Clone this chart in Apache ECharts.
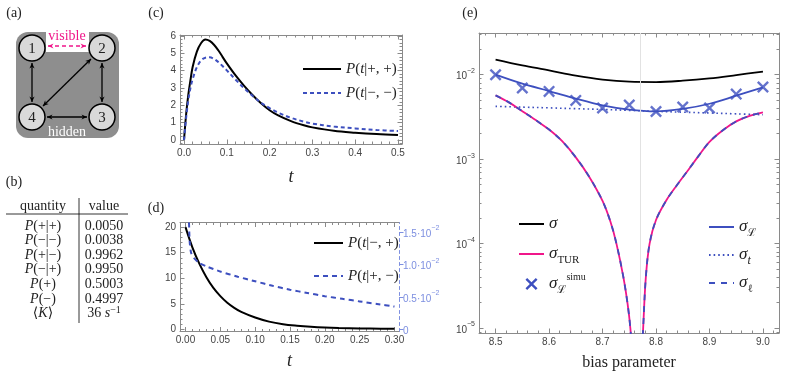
<!DOCTYPE html>
<html>
<head>
<meta charset="utf-8">
<script src="https://cdn.jsdelivr.net/npm/echarts@6/dist/echarts.min.js"></script>
<style>html,body{margin:0;background:#fff}#main{width:789px;height:380px}</style>
</head>
<body>
<div id="main"></div>
<script>
// panel (c): first passage densities
const tC = [0, 0.005, 0.01, 0.015, 0.02, 0.03, 0.04, 0.05, 0.06, 0.07, 0.08, 0.09, 0.1, 0.12, 0.14, 0.16, 0.18, 0.2, 0.22, 0.25, 0.28, 0.3, 0.35, 0.4, 0.45, 0.5];
const pPlusPlus = [0, 1.5, 2.6, 3.45, 4.2, 5.1, 5.6, 5.8, 5.72, 5.5, 5.18, 4.8, 4.42, 3.74, 3.14, 2.6, 2.12, 1.72, 1.42, 1.09, 0.85, 0.73, 0.53, 0.42, 0.34, 0.29];
const pMinusMinus = [0, 1.3, 2.3, 3.0, 3.5, 4.2, 4.6, 4.75, 4.77, 4.68, 4.5, 4.27, 4.02, 3.5, 3.0, 2.55, 2.15, 1.84, 1.58, 1.28, 1.06, 0.95, 0.78, 0.67, 0.58, 0.52];

// panel (d)
const tD = [0, 0.01, 0.02, 0.03, 0.04, 0.05, 0.06, 0.07, 0.08, 0.1, 0.12, 0.14, 0.16, 0.18, 0.2, 0.22, 0.25, 0.28, 0.3];
const pMinusPlus = [20, 16.0, 12.8, 10.2, 8.1, 6.5, 5.2, 4.2, 3.4, 2.3, 1.5, 1.0, 0.7, 0.48, 0.33, 0.24, 0.16, 0.12, 0.1];
const tD2 = [0.004, 0.005, 0.006, 0.008, 0.012, 0.02, 0.03, 0.05, 0.075, 0.1, 0.125, 0.15, 0.175, 0.2, 0.225, 0.25, 0.275, 0.3];
const pPlusMinus = [0.022, 0.0165, 0.0135, 0.0118, 0.011, 0.0102, 0.0097, 0.0089, 0.0081, 0.0074, 0.0067, 0.0061, 0.0056, 0.0051, 0.0047, 0.0043, 0.0039, 0.0035];

// panel (e): entropy production estimates vs bias
const bias = [8.5, 8.55, 8.6, 8.65, 8.7, 8.75, 8.8, 8.85, 8.9, 8.95, 9.0];
const sigmaTot = [0.0151, 0.0129, 0.01125, 0.00973, 0.00873, 0.00826, 0.00819, 0.00849, 0.00904, 0.0099, 0.0109];
const sigmaL = [0.01, 0.00782, 0.00641, 0.0052, 0.00433, 0.00385, 0.00367, 0.00393, 0.00453, 0.00564, 0.00708];
const sigmaT = [0.00422, 0.00413, 0.00405, 0.00396, 0.00388, 0.00378, 0.00368, 0.0036, 0.00352, 0.00344, 0.00336];
const sigmaSimu = [0.01, 0.00695, 0.00634, 0.00496, 0.00403, 0.00438, 0.00367, 0.00414, 0.00403, 0.0059, 0.00715];
const biasTurLeft = [8.5, 8.525, 8.55, 8.575, 8.6, 8.625, 8.65, 8.675, 8.7, 8.715, 8.726, 8.739, 8.747, 8.752, 8.758];
const sigmaTurLeft = [5.7e-3, 4.7e-3, 3.7e-3, 2.9e-3, 2.24e-3, 1.62e-3, 1.05e-3, 6.2e-4, 3.2e-4, 1.8e-4, 1.0e-4, 4.0e-5, 1.9e-5, 1.0e-5, 3e-6];
const biasTurRight = [8.772, 8.776, 8.781, 8.788, 8.8, 8.82, 8.84, 8.86, 8.88, 8.9, 8.925, 8.95, 8.975, 9.0];
const sigmaTurRight = [3e-6, 1e-5, 4e-5, 1e-4, 1.9e-4, 3.3e-4, 5.0e-4, 7.4e-4, 1.1e-3, 1.6e-3, 2.2e-3, 2.8e-3, 3.25e-3, 3.57e-3];
const zeroBias = 8.765;

// table (b)
const quantities = ['{i|P}(+|+)', '{i|P}(−|−)', '{i|P}(+|−)', '{i|P}(−|+)', '{i|P}(+)', '{i|P}(−)', '⟨{i|K}⟩'];
const values = ['0.0050', '0.0038', '0.9962', '0.9950', '0.5003', '0.4997', '36 {i|s}{sup|−1}'];

const SERIF = "'Liberation Serif','DejaVu Serif',serif";
const SANS = "'Liberation Sans',Arial,sans-serif";
const FRAME = '#8a8a8a';
const LABEL = '#444';
const BLUE = '#3d4fbf';
const PINK = '#f0168a';
const LIGHTBLUE = '#7d8fe0';

function steps(lo, hi, step) {
  const out = [];
  for (let k = Math.ceil(lo / step - 1e-6); k * step <= hi + 1e-9; k++) out.push(Math.round(k * step * 1e6) / 1e6);
  return out;
}
function pairs(xs, ys, f) {
  return xs.map((x, i) => [x, f ? f(ys[i]) : ys[i]]);
}
const supRich = c => ({
  base: {fontSize: 10, fontFamily: SANS, color: c, lineHeight: 14, verticalAlign: 'bottom'},
  sup: {fontSize: 7, fontFamily: SANS, color: c, lineHeight: 14, verticalAlign: 'top'}
});

const xAxes = [], yAxes = [];
// frame side: one axis with line, long ticks and labels, one with short minor ticks
function side(list, grid, pos, min, max, major, minor, fmt, look) {
  look = look || {};
  const col = look.color || FRAME;
  const idx = list.length;
  const ax = {
    type: 'value', gridIndex: grid, position: pos, min: min, max: max,
    axisLine: {show: true, onZero: false, lineStyle: {color: col, width: 1, type: look.dash ? [3, 3] : 'solid'}},
    axisTick: {show: true, inside: !look.outside, length: 4.5, customValues: major, lineStyle: {color: col}},
    axisLabel: fmt ? {show: true, customValues: major, formatter: fmt, color: look.labelColor || LABEL,
      fontSize: 10, fontFamily: SANS, margin: 4, rich: supRich(look.labelColor || LABEL)} : {show: false},
    splitLine: {show: false}
  };
  if (look.name) {
    ax.name = look.name;
    ax.nameLocation = 'middle';
    ax.nameGap = look.nameGap;
    ax.nameTextStyle = {fontFamily: SERIF, fontSize: look.nameSize, fontStyle: look.nameStyle || 'normal', color: '#222'};
  }
  list.push(ax);
  if (minor) list.push({
    type: 'value', gridIndex: grid, position: pos, min: min, max: max,
    axisLine: {show: false, onZero: false},
    axisTick: {show: true, inside: true, length: 2.5, customValues: minor, lineStyle: {color: col}},
    axisLabel: {show: false}, splitLine: {show: false}
  });
  return idx;
}

// (c)
const cx = [-0.0094, 0.5094], cy = [-0.23, 6.06];
const xC = side(xAxes, 0, 'bottom', cx[0], cx[1], steps(0, 0.5, 0.1), steps(cx[0], cx[1], 0.02), v => v.toFixed(1),
  {name: 't', nameGap: 24, nameSize: 18, nameStyle: 'italic'});
side(xAxes, 0, 'top', cx[0], cx[1], steps(0, 0.5, 0.1), steps(cx[0], cx[1], 0.02));
const yC = side(yAxes, 0, 'left', cy[0], cy[1], steps(0, 6, 1), steps(cy[0], cy[1], 0.2), v => String(v));
side(yAxes, 0, 'right', cy[0], cy[1], steps(0, 6, 1), steps(cy[0], cy[1], 0.2));

// (d)
const dx = [-0.0079, 0.3065], dy = [-0.43, 20.9], dy2 = [-0.00034, 0.01646];
const xD = side(xAxes, 1, 'bottom', dx[0], dx[1], steps(0, 0.3, 0.05), steps(dx[0], dx[1], 0.01), v => v.toFixed(2),
  {name: 't', nameGap: 21, nameSize: 18, nameStyle: 'italic'});
side(xAxes, 1, 'top', dx[0], dx[1], steps(0, 0.3, 0.05), steps(dx[0], dx[1], 0.01));
const yD = side(yAxes, 1, 'left', dy[0], dy[1], steps(0, 20, 5), steps(dy[0], dy[1], 1), v => String(v));
const yD2 = side(yAxes, 1, 'right', dy2[0], dy2[1], [0, 0.005, 0.01, 0.015], null,
  v => v === 0 ? '{base|0}' : '{base|' + (v * 100).toFixed(1) + '·10}{sup|−2}',
  {color: LIGHTBLUE, labelColor: LIGHTBLUE, dash: true, outside: true});

// (e)
const ex = [8.469, 9.03], ey = [-5.059, -1.506];
const logMinor = [];
for (let n = -6; n <= -2; n++) for (let k = 2; k <= 9; k++) {
  const v = n + Math.log10(k);
  if (v > ey[0] && v < ey[1]) logMinor.push(v);
}
const xE = side(xAxes, 2, 'bottom', ex[0], ex[1], steps(8.5, 9.0, 0.1), steps(ex[0], ex[1], 0.02), v => v.toFixed(1),
  {name: 'bias parameter', nameGap: 22, nameSize: 16});
side(xAxes, 2, 'top', ex[0], ex[1], steps(8.5, 9.0, 0.1), steps(ex[0], ex[1], 0.02));
const yE = side(yAxes, 2, 'left', ey[0], ey[1], [-5, -4, -3, -2], logMinor,
  v => '{base|10}{sup|−' + Math.round(-v) + '}');
side(yAxes, 2, 'right', ey[0], ey[1], [-5, -4, -3, -2], logMinor);

const lg = Math.log10;
function line(name, xi, yi, data, color, width, type, extra) {
  return Object.assign({
    name: name, type: 'line', xAxisIndex: xi, yAxisIndex: yi, data: data,
    showSymbol: false, smooth: 0.35,
    lineStyle: {color: color, width: width, type: type || 'solid'}, itemStyle: {color: color}
  }, extra || {});
}
const crossPath = 'path://M0,1.4L1.4,0L5,3.6L8.6,0L10,1.4L6.4,5L10,8.6L8.6,10L5,6.4L1.4,10L0,8.6L3.6,5Z';

const series = [
  line('P(t|+,+)', xC, yC, pairs(tC, pPlusPlus), '#000', 2),
  line('P(t|−,−)', xC, yC, pairs(tC, pMinusMinus), BLUE, 2, [4, 3]),
  line('P(t|−,+)', xD, yD, pairs(tD, pMinusPlus), '#000', 2),
  line('P(t|+,−)', xD, yD2, pairs(tD2, pPlusMinus), BLUE, 2, [5, 4], {smooth: 0.2}),
  line('σ', xE, yE, pairs(bias, sigmaTot, lg), '#000', 1.8, 'solid', {
    markLine: {silent: true, symbol: 'none', label: {show: false}, animation: false,
      lineStyle: {color: '#e2e2e2', width: 1, type: 'solid'}, data: [{xAxis: zeroBias}]}
  }),
  line('σt', xE, yE, pairs(bias, sigmaT, lg), BLUE, 1.6, [1.6, 3]),
  line('σTUR', xE, yE, pairs(biasTurLeft, sigmaTurLeft, lg), PINK, 1.8),
  line('σTUR', xE, yE, pairs(biasTurRight, sigmaTurRight, lg), PINK, 1.8),
  line('σℓ', xE, yE, pairs(biasTurLeft, sigmaTurLeft, lg), BLUE, 1.8, [6, 6]),
  line('σℓ', xE, yE, pairs(biasTurRight, sigmaTurRight, lg), BLUE, 1.8, [6, 6]),
  line('σL', xE, yE, pairs(bias, sigmaL, lg), BLUE, 1.8),
  {
    name: 'σsimu', type: 'scatter', xAxisIndex: xE, yAxisIndex: yE, data: pairs(bias, sigmaSimu, lg),
    symbol: crossPath, symbolSize: 12, itemStyle: {color: BLUE}, z: 5
  }
];

const legendText = {
  'P(t|+,+)': '{i|P}({i|t}|+, +)',
  'P(t|−,−)': '{i|P}({i|t}|−, −)',
  'P(t|−,+)': '{i|P}({i|t}|−, +)',
  'P(t|+,−)': '{i|P}({i|t}|+, −)',
  'σ': '{s|σ}',
  'σTUR': '{s|σ}{sub|TUR}',
  'σsimu': '{s|σ}{sub|ℒ}{sup|simu}',
  'σL': '{s|σ}{sub|ℒ}',
  'σt': '{s|σ}{subi|t}',
  'σℓ': '{s|σ}{sub|ℓ}'
};
const legRich = {
  i: {fontFamily: SERIF, fontStyle: 'italic', fontSize: 15, lineHeight: 18, color: '#222'},
  s: {fontFamily: SERIF, fontStyle: 'italic', fontSize: 17, lineHeight: 24, color: '#222', verticalAlign: 'middle'},
  sub: {fontFamily: SERIF, fontSize: 11, lineHeight: 24, color: '#222', verticalAlign: 'bottom'},
  subi: {fontFamily: SERIF, fontStyle: 'italic', fontSize: 12, lineHeight: 24, color: '#222', verticalAlign: 'bottom'},
  sup: {fontFamily: SERIF, fontSize: 10, lineHeight: 24, color: '#222', verticalAlign: 'top'}
};
// line series get only their line in the legend; the marker series keeps its cross
function legend(names, left, top, w, gap) {
  return {
    data: names.map(n => n === 'σsimu' ? {name: n, itemStyle: {opacity: 1}} : n),
    orient: 'vertical', left: left, top: top, itemWidth: w, itemHeight: 12, itemGap: gap,
    selectedMode: false, formatter: n => legendText[n], itemStyle: {opacity: 0},
    textStyle: {fontFamily: SERIF, fontSize: 15, lineHeight: 18, color: '#222', rich: legRich}
  };
}

// (a) network sketch helpers
function arrow(x1, y1, x2, y2, color, dash) {
  const a = Math.atan2(y2 - y1, x2 - x1), L = 5.5, W = 2.6;
  const head = (x, y, g) => ({
    type: 'polygon', silent: true,
    shape: {points: [[x, y],
      [x - L * Math.cos(g) + W * Math.sin(g), y - L * Math.sin(g) - W * Math.cos(g)],
      [x - L * 0.7 * Math.cos(g), y - L * 0.7 * Math.sin(g)],
      [x - L * Math.cos(g) - W * Math.sin(g), y - L * Math.sin(g) + W * Math.cos(g)]]},
    style: {fill: color}
  });
  return [
    {type: 'line', silent: true, shape: {x1: x1, y1: y1, x2: x2, y2: y2}, style: {stroke: color, lineWidth: 1.3, lineDash: dash || null}},
    head(x2, y2, a), head(x1, y1, a + Math.PI)
  ];
}
const nodes = [[32, 48, '1'], [102, 48, '2'], [102, 117, '3'], [32, 117, '4']];
const txt = (x, y, text, size, color, extra) => Object.assign({
  type: 'text', silent: true, x: x, y: y,
  style: {text: text, fontFamily: SERIF, fontSize: size, fill: color || '#222', align: 'center', verticalAlign: 'middle',
    rich: {
      i: {fontFamily: SERIF, fontStyle: 'italic', fontSize: size, fill: color || '#222'},
      sup: {fontFamily: SERIF, fontSize: size - 4, fill: color || '#222', verticalAlign: 'top', lineHeight: size + 2}
    }}
}, extra || {});

const graphics = [
  txt(14, 13, '(a)', 14), txt(14, 182, '(b)', 14), txt(156, 13, '(c)', 14), txt(156, 208, '(d)', 14), txt(470, 13, '(e)', 14),
  {type: 'rect', silent: true, shape: {x: 16, y: 32, width: 103, height: 106, r: 12}, style: {fill: '#8e8e8e'}},
  {type: 'rect', silent: true, shape: {x: 46, y: 30, width: 43, height: 22}, style: {fill: '#fff'}}
];
nodes.forEach(n => {
  graphics.push({type: 'circle', silent: true, shape: {cx: n[0], cy: n[1], r: 13}, style: {fill: '#d9d9d9', stroke: '#000', lineWidth: 1.5}});
  graphics.push(txt(n[0], n[1] + 1, n[2], 15));
});
graphics.push(...arrow(32, 63, 32, 102, '#000'));
graphics.push(...arrow(102, 63, 102, 102, '#000'));
graphics.push(...arrow(47, 117, 87, 117, '#000'));
graphics.push(...arrow(43, 106, 91, 59, '#000'));
graphics.push(...arrow(48, 46, 86, 46, PINK, [4, 3]));
graphics.push(txt(67, 36, 'visible', 14, PINK));
graphics.push(txt(67, 132, 'hidden', 14, '#fff'));

// (b) table
graphics.push({type: 'line', silent: true, shape: {x1: 6, y1: 214, x2: 128, y2: 214}, style: {stroke: '#000', lineWidth: 0.8}});
graphics.push({type: 'line', silent: true, shape: {x1: 79, y1: 198, x2: 79, y2: 323}, style: {stroke: '#000', lineWidth: 0.8}});
graphics.push(txt(43, 206, 'quantity', 14), txt(104, 206, 'value', 14));
quantities.forEach((q, i) => {
  const y = 226 + i * 14.6;
  graphics.push(txt(43, y, q, 14), txt(104, y, values[i], 14));
});

const chart = echarts.init(document.getElementById('main'), null, {renderer: 'canvas'});
chart.setOption({
  animation: false,
  backgroundColor: '#fff',
  grid: [
    {left: 180, top: 35, width: 222, height: 109},
    {left: 180, top: 222.5, width: 219, height: 109},
    {left: 479, top: 33, width: 300, height: 300}
  ],
  xAxis: xAxes,
  yAxis: yAxes,
  legend: [
    legend(['P(t|+,+)', 'P(t|−,−)'], 297, 55, 38, 6),
    legend(['P(t|−,+)', 'P(t|+,−)'], 308, 229, 29, 15),
    legend(['σ', 'σTUR', 'σsimu'], 513, 207, 25, 6),
    legend(['σL', 'σt', 'σℓ'], 703, 210, 25, 4)
  ],
  series: series,
  graphic: graphics
});
</script>
</body>
</html>
